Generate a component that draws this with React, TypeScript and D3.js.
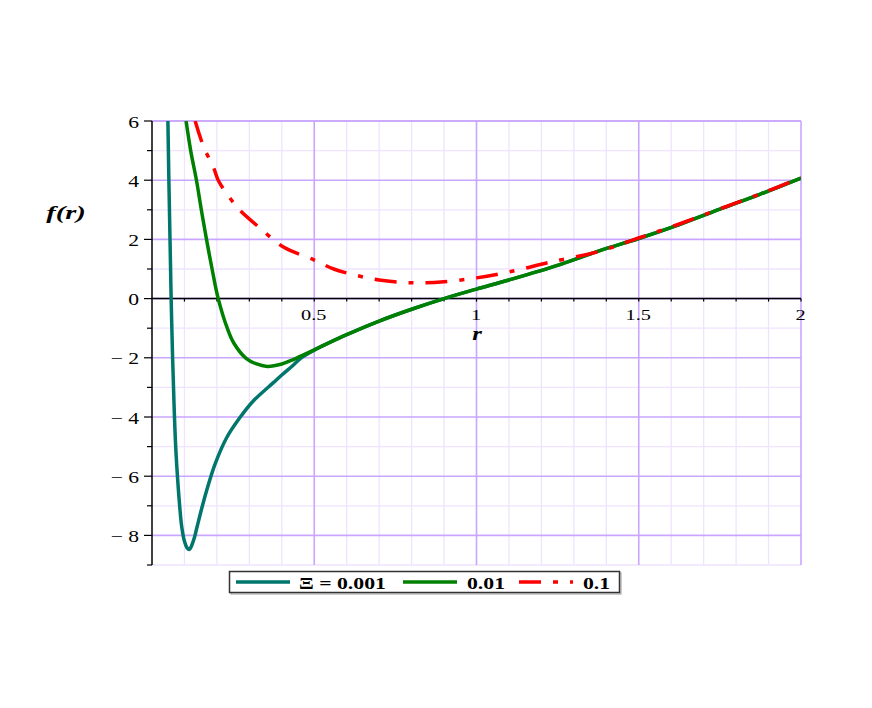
import React from 'react'
import { scaleLinear, line, curveCatmullRom, range } from 'd3'

// r values and f(r)
const tealR = [0.049, 0.052, 0.0555, 0.059, 0.0635, 0.068, 0.073, 0.079, 0.086, 0.0915, 0.1, 0.108, 0.115, 0.122, 0.13, 0.138, 0.153, 0.168, 0.194, 0.23, 0.271, 0.312, 0.374, 0.4, 0.435, 0.46, 0.5, 0.6, 0.7, 0.8, 0.9, 1.0, 1.1, 1.257, 1.38, 1.5, 1.625, 1.75, 1.875, 2.0]
const tealF = [6, 4, 2, 0, -2, -3.6, -5.0, -6.1, -7.1, -7.7, -8.2, -8.42, -8.48, -8.35, -8.1, -7.75, -7.1, -6.5, -5.6, -4.7, -4.02, -3.46, -2.84, -2.58, -2.25, -2.0, -1.74, -1.22, -0.76, -0.36, 0.0, 0.32, 0.63, 1.15, 1.62, 2.03, 2.5, 3.02, 3.53, 4.07]

const greenR = [0.105, 0.12, 0.137, 0.152, 0.168, 0.186, 0.204, 0.232, 0.252, 0.29, 0.32, 0.355, 0.4, 0.435, 0.5, 0.6, 0.7, 0.8, 0.9, 1.0, 1.1, 1.257, 1.38, 1.5, 1.625, 1.75, 1.875, 2.0]
const greenF = [6, 4.95, 4.0, 3.0, 2.0, 0.95, 0.0, -1.0, -1.5, -2.02, -2.2, -2.29, -2.21, -2.06, -1.73, -1.22, -0.76, -0.36, 0.0, 0.32, 0.63, 1.15, 1.62, 2.03, 2.5, 3.02, 3.53, 4.07]

const redR = [0.133, 0.16, 0.189, 0.204, 0.24, 0.271, 0.333, 0.405, 0.497, 0.56, 0.631, 0.7, 0.77, 0.83, 0.9, 1.0, 1.1, 1.227, 1.38, 1.5, 1.625, 1.75, 1.875, 2.0]
const redF = [6, 5.1, 4.45, 4.0, 3.4, 2.98, 2.38, 1.74, 1.32, 1.0, 0.78, 0.63, 0.55, 0.53, 0.57, 0.7, 0.9, 1.23, 1.6, 2.05, 2.52, 3.03, 3.54, 4.08]

const xTickLabels = [0.5, 1, 1.5, 2]
const yTickLabels = [-8, -6, -4, -2, 0, 2, 4, 6]
const legendLabels = ['Ξ = 0.001', '0.01', '0.1']

const W = 872
const H = 708
const left = 152, right = 801, top = 121, bottom = 565

// the reference text is stretched sideways, so every label gets a horizontal scale
const Label = ({ x, y, sx = 1.33, anchor = 'start', size = 15.5, bold = false, italic = false, children }: any) => (
  <text
    transform={`translate(${x},${y}) scale(${sx},1)`}
    textAnchor={anchor}
    fontSize={size}
    fontWeight={bold ? 'bold' : 'normal'}
    fontStyle={italic ? 'italic' : 'normal'}
    style={{ fontFamily: "'Liberation Serif', 'Times New Roman', Times, serif" }}
  >
    {children}
  </text>
)

export default function App() {
  const x = scaleLinear().domain([0, 2]).range([left, right])
  const y = scaleLinear().domain([-9, 6]).range([bottom, top])

  const mk = (rs: number[], fs: number[]) =>
    line<number>().x((_, i) => x(rs[i])).y((_, i) => y(fs[i])).curve(curveCatmullRom.alpha(0.5))(rs) || ''

  const minorX = range(1, 21).map(i => i / 10).filter(v => Math.abs(v * 2 - Math.round(v * 2)) > 1e-6)
  const majorX = [0.5, 1, 1.5, 2]
  const minorY = range(-9, 7).filter(v => v % 2 !== 0)
  const majorY = range(-8, 7, 2)

  const series = [
    { d: mk(tealR, tealF), color: '#00766c', dash: undefined },
    { d: mk(greenR, greenF), color: '#008000', dash: undefined },
    { d: mk(redR, redF), color: '#ff0000', dash: '22 12 5 12' },
  ]

  const fmtY = (v: number) => (v < 0 ? '\u2212 ' + Math.abs(v) : String(v))

  return (
    <svg width={W} height={H} style={{ position: 'absolute', left: 0, top: 0, background: '#fff' }}>
      <defs>
        <clipPath id="plotclip">
          <rect x={left} y={top} width={right - left} height={bottom - top} />
        </clipPath>
      </defs>

      {/* grid */}
      <g>
        {minorX.map(v => (
          <line key={'mx' + v} x1={x(v)} x2={x(v)} y1={top} y2={bottom} stroke="#efe3ff" strokeWidth={1.3} />
        ))}
        {minorY.map(v => (
          <line key={'my' + v} x1={left} x2={right} y1={y(v)} y2={y(v)} stroke="#efe3ff" strokeWidth={1.3} />
        ))}
        {majorX.map(v => (
          <line key={'Mx' + v} x1={x(v)} x2={x(v)} y1={top} y2={bottom} stroke="#c9a6ff" strokeWidth={1.6} />
        ))}
        {majorY.concat([6]).map(v => (
          <line key={'My' + v} x1={left} x2={right} y1={y(v)} y2={y(v)} stroke="#c9a6ff" strokeWidth={1.6} />
        ))}
      </g>

      {/* axes */}
      <line x1={left} x2={left} y1={top} y2={bottom} stroke="#000" strokeWidth={1.5} />
      <line x1={left} x2={right} y1={y(0)} y2={y(0)} stroke="#000" strokeWidth={1.5} />
      {range(-9, 7).map(v => (
        <line key={'yt' + v} x1={left - (v % 2 === 0 ? 8 : 5)} x2={left} y1={y(v)} y2={y(v)} stroke="#000" strokeWidth={1.2} />
      ))}
      {range(1, 21).map(i => (
        <line key={'xt' + i} x1={x(i / 10)} x2={x(i / 10)} y1={y(0)} y2={y(0) + 3} stroke="#000" strokeWidth={1.2} />
      ))}
      {yTickLabels.map(v => (
        <Label key={'yl' + v} x={139} y={y(v) + 6.5} anchor="end" sx={1.35} size={16}>
          {fmtY(v)}
        </Label>
      ))}
      {xTickLabels.map(v => (
        <Label key={'xl' + v} x={x(v) - 0.5} y={y(0) + 21} anchor="middle" sx={1.4} size={14.5}>
          {String(v)}
        </Label>
      ))}
      <Label x={66} y={219} anchor="middle" sx={1.5} size={19} bold italic>
        f(r)
      </Label>
      <Label x={477} y={340} anchor="middle" sx={1.3} size={19} bold italic>
        r
      </Label>

      {/* curves */}
      <g clipPath="url(#plotclip)">
        {series.map((s, i) => (
          <path key={i} d={s.d} fill="none" stroke={s.color} strokeWidth={3.5} strokeDasharray={s.dash} />
        ))}
      </g>

      {/* legend */}
      <rect x={231} y={573} width={390} height={21} fill="none" stroke="#999" strokeWidth={1} />
      <rect x={229.5} y={571.5} width={390} height={21} fill="#fff" stroke="#333" strokeWidth={1.5} />
      {series.map((s, i) => {
        const lx = [236, 403, 519][i]
        const tx = [299, 467, 583][i]
        return (
          <g key={'lg' + i}>
            <line x1={lx} x2={lx + 54} y1={582} y2={582} stroke={s.color} strokeWidth={3.5} strokeDasharray={s.dash} />
            <Label x={tx} y={588.5} sx={1.28} size={17} bold>
              {legendLabels[i]}
            </Label>
          </g>
        )
      })}
    </svg>
  )
}
